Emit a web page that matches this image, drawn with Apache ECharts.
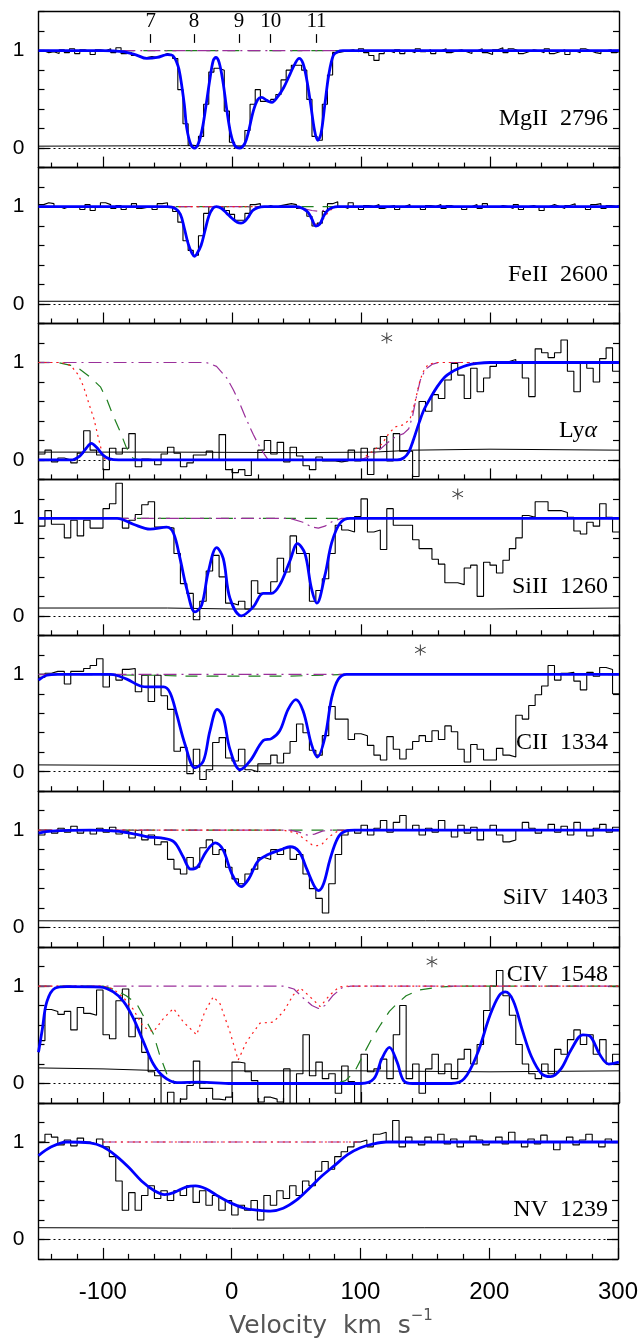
<!DOCTYPE html>
<html><head><meta charset="utf-8">
<script src="https://cdn.jsdelivr.net/npm/echarts@6/dist/echarts.min.js"></script>
<style>html,body{margin:0;padding:0;background:#fff}#c{width:641px;height:1344px}</style>
</head><body><div id="c"></div>
<script>
// ---------- axis ranges / ticks ----------
const velMin = -150, velMax = 300;
const fluxMin = -0.2, fluxMax = 1.4;
const majorVel = [-100, 0, 100, 200, 300];
const minorVel = [-140,-120,-80,-60,-40,-20,20,40,60,80,120,140,160,180,220,240,260,280];
const velLabels = [-100, 0, 100, 200, 300];
const fluxLabels = [0, 1];

// ---------- panel 1: MgII 2796 ----------
const mgBinStart = -150, mgBinWidth = 4;
const mgFlux = [
 1.0,0.98,0.99,0.97,1.01,0.98,1.02,0.97,1.01,0.99,
 0.96,1.01,1.0,1.02,0.98,1.03,0.97,0.98,0.95,0.93,
 0.93,0.94,0.93,0.95,0.97,0.95,0.92,0.6,0.25,0.03,
 0.02,0.12,0.45,0.78,0.82,0.8,0.38,0.06,0.01,0.03,
 0.18,0.45,0.6,0.48,0.47,0.5,0.55,0.7,0.8,0.85,
 0.85,0.8,0.5,0.12,0.08,0.45,0.75,0.98,0.99,1.0,
 1.01,0.99,1.02,0.98,0.95,0.9,0.97,1.0,0.98,1.01,
 0.97,1.0,0.98,1.02,0.99,1.01,0.97,1.0,1.02,0.98,
 1.0,1.01,0.99,0.97,1.0,1.02,0.98,0.96,1.01,1.03,
 0.98,1.02,1.0,0.97,0.99,1.01,1.0,0.98,1.02,0.97,
 0.99,1.01,0.96,1.0,0.98,1.02,1.0,0.98,0.97,1.0,
 1.01,0.98,1.0];
const mgFit = [[-150,1],[-100,1],[-85,0.99],[-75,0.96],[-66,0.92],[-58,0.93],[-50,0.96],[-46,0.95],[-42,0.85],[-40,0.73],[-37,0.45],[-35,0.2],[-32,0.04],[-29,0],[-26,0.05],[-23,0.2],[-20,0.45],[-17,0.72],[-14.5,0.9],[-12.5,0.93],[-10,0.88],[-7,0.68],[-4,0.39],[-1,0.15],[2,0.03],[6,0],[10,0.05],[13,0.18],[16.5,0.38],[20,0.5],[23,0.52],[27,0.49],[31,0.47],[35,0.52],[40,0.62],[45,0.76],[49,0.87],[52,0.92],[55,0.87],[58,0.7],[61,0.45],[64,0.18],[66.5,0.08],[69,0.15],[72,0.45],[75,0.75],[78.5,0.95],[82,0.99],[86,1],[300,1]];
const mgError = [[-150,0.02],[-40,0.025],[60,0.02],[90,0.025],[300,0.02]];
const mgGreen = [[-85,1],[90,1]];
const mgMagenta = [[-85,1],[90,1]];
const componentVel = [-63, -29.5, 5.5, 30, 65.5];
const componentLabels = ['7', '8', '9', '10', '11'];

// ---------- panel 2: FeII 2600 ----------
const feBinStart = -150, feBinWidth = 4;
const feFlux = [
 1.02,1.04,1.03,1.0,0.98,1.0,0.99,1.0,0.97,1.02,
 0.96,1.0,1.04,1.02,0.98,1.01,0.97,1.0,1.03,0.98,
 0.99,1.0,0.97,1.03,1.04,1.0,0.95,0.84,0.65,0.55,
 0.5,0.7,0.93,1.0,0.99,1.0,0.96,0.92,0.86,0.86,
 0.93,1.02,1.03,0.99,1.01,0.99,1.01,1.02,1.03,1.02,
 0.98,0.97,0.9,0.8,0.83,0.95,1.03,1.05,1.0,0.98,
 1.04,1.0,0.97,1.01,1.0,1.02,0.98,1.0,1.01,0.97,
 1.0,1.02,0.99,1.0,0.97,1.01,1.0,1.02,0.98,1.01,
 0.99,1.0,0.97,1.0,1.02,0.98,1.03,1.0,0.99,1.01,
 1.0,0.98,1.02,0.97,1.0,1.01,0.99,0.96,1.0,1.02,
 1.0,0.98,1.01,1.03,0.99,1.0,0.97,1.02,1.03,0.98,
 1.01,1.0,1.02];
const feFit = [[-150,1],[-50,1],[-44,0.98],[-40,0.92],[-37,0.78],[-34,0.62],[-31,0.52],[-29,0.49],[-27,0.52],[-24,0.6],[-21,0.75],[-18,0.9],[-15,0.98],[-12,1.0],[-8,0.98],[-4,0.93],[0,0.88],[4,0.84],[7,0.83],[10,0.85],[13,0.9],[16,0.96],[20,0.99],[25,1],[50,1],[55,0.98],[59,0.94],[62,0.87],[65,0.8],[68,0.82],[71,0.9],[74,0.96],[78,0.99],[82,1],[300,1]];
const feError = [[-150,0.028],[0,0.03],[300,0.028]];
const feGreen = [[-60,1],[90,1]];
const feMagenta = [[-60,1],[45,1],[55,0.98],[62,0.96],[68,0.95],[74,0.97],[80,1],[90,1]];
const feRed = [[-60,1],[50,1],[58,0.95],[63,0.85],[66,0.8],[70,0.86],[75,0.95],[80,1],[90,1]];

// ---------- panel 3: Ly alpha ----------
const lyaBinStart = -150, lyaBinWidth = 5;
const lyaFlux = [
 0.06,0.1,-0.02,0.02,0.0,-0.03,0.07,0.3,0.1,0.05,
 -0.1,0.12,0.06,0.12,0.27,-0.07,0.01,0.0,-0.05,0.06,
 0.13,0.07,-0.07,-0.03,0.05,0.05,0.09,0.0,0.26,-0.1,
 -0.13,-0.1,-0.16,0.0,0.1,0.2,0.06,0.18,-0.02,0.13,
 0.04,-0.06,-0.1,0.03,-0.01,-0.01,-0.02,-0.01,0.1,-0.01,
 0.12,-0.15,0.12,0.24,-0.01,0.27,0.09,0.09,-0.17,0.6,
 0.5,0.67,0.63,0.82,0.99,0.87,0.63,0.94,0.7,0.84,
 0.96,0.99,1.01,1.03,0.99,0.84,0.65,1.14,1.1,1.05,
 1.1,1.23,0.91,0.7,0.99,0.94,0.8,1.04,1.15,0.91];
const lyaFit = [[-150,0],[-125,0],[-118,0.04],[-113,0.12],[-109,0.17],[-105,0.13],[-100,0.05],[-95,0.01],[-88,0],[128,0],[133,0.02],[137,0.08],[141,0.22],[145,0.38],[149,0.52],[154,0.64],[159,0.75],[165,0.85],[170,0.9],[176,0.94],[182,0.97],[190,0.99],[200,1.0],[300,1.0]];
const lyaError = [[-150,0.08],[-50,0.08],[50,0.075],[110,0.08],[140,0.1],[200,0.11],[300,0.1]];
const lyaGreen = [[-150,1],[-135,1],[-125,0.97],[-118,0.93],[-110,0.85],[-102,0.75],[-97,0.62],[-92,0.45],[-87,0.3],[-82,0.13],[-77,0.02],[-72,0],[-60,0]];
const lyaMagenta = [[-150,1],[-20,1],[-12,0.96],[-4,0.84],[1,0.72],[6,0.58],[11,0.42],[16.5,0.26],[22,0.12],[28,0.0],[100,0],[107,0.04],[114,0.1],[120,0.17],[127,0.24],[133,0.27],[137,0.32],[140,0.45],[143,0.65],[146,0.82],[150,0.93],[155,0.98],[160,1],[300,1]];
const lyaRed = [[-150,1],[-132,1],[-125,0.97],[-119,0.87],[-115,0.75],[-111,0.58],[-107,0.42],[-104,0.25],[-102,0.14],[-100,0.04],[-98,0],[100,0],[107,0.07],[116,0.16],[122,0.28],[127,0.34],[133,0.36],[138,0.42],[142,0.6],[145,0.78],[148,0.9],[152,0.98],[158,1],[300,1]];
const lyaStar = [[120, 1.25]];

// ---------- panel 4: SiII 1260 ----------
const si2BinStart = -150, si2BinWidth = 5;
const si2Flux = [
 0.92,1.08,0.94,0.94,0.8,0.98,0.82,0.98,0.9,0.9,
 1.1,1.15,1.36,0.9,0.98,1.04,1.14,1.17,0.91,0.91,
 0.9,0.64,0.33,0.23,-0.04,0.15,0.46,0.62,0.4,0.13,
 0.11,0.15,0.07,0.36,0.23,0.23,0.35,0.59,0.45,0.82,
 0.64,0.64,0.15,0.26,0.38,0.64,0.93,0.88,0.86,1.02,
 1.2,0.86,0.88,0.68,1.1,0.93,0.93,0.93,0.78,0.69,
 0.69,0.58,0.53,0.34,0.34,0.32,0.49,0.52,0.2,0.55,
 0.52,0.44,0.57,0.69,0.8,1.03,1.01,1.17,1.17,1.08,
 1.08,1.06,1.01,0.87,0.84,0.96,0.92,1.15,1.01,0.86];
const si2Fit = [[-150,1.0],[-100,1.0],[-89,1.0],[-76.5,0.94],[-63.5,0.89],[-50.6,0.91],[-45.4,0.85],[-40.3,0.59],[-35.1,0.28],[-28.7,0.04],[-23.5,0.11],[-18.4,0.45],[-11.9,0.7],[-6.8,0.59],[-1.6,0.18],[7.4,0.0],[16.4,0.09],[24.2,0.23],[30.6,0.23],[37.1,0.32],[44.8,0.56],[50.8,0.74],[56.5,0.64],[61.6,0.28],[65.8,0.13],[72.1,0.42],[77.3,0.75],[83.7,0.95],[91.5,1.0],[300,1.0]];
const si2Error = [[-150,0.08],[-50,0.08],[0,0.07],[100,0.07],[200,0.07],[300,0.08]];
const si2Green = [[-90,1],[90,1]];
const si2Magenta = [[-90,1],[45,1],[55,0.96],[62,0.91],[67,0.9],[72,0.92],[78,0.97],[85,1],[90,1]];
const si2Star = [[175, 1.25]];

// ---------- panel 5: CII 1334 ----------
const c2BinStart = -150, c2BinWidth = 5;
const c2Flux = [
 0.97,1.01,1.03,1.03,0.9,1.03,1.03,1.06,1.09,1.16,
 0.87,1.0,0.94,1.05,1.06,0.82,0.99,0.72,0.99,0.78,
 0.64,0.21,0.25,-0.02,0.23,-0.08,0.02,0.3,0.35,0.14,
 0.11,0.23,0.02,0.0,0.08,0.08,0.17,0.09,0.19,0.31,
 0.49,0.4,0.22,0.17,0.37,0.67,0.54,0.54,0.33,0.39,
 0.37,0.27,0.17,0.12,0.36,0.23,0.13,0.23,0.31,0.37,
 0.31,0.42,0.33,0.47,0.41,0.23,0.1,0.28,0.23,0.12,
 0.12,0.24,0.17,0.15,0.58,0.54,0.68,0.79,0.88,1.09,
 0.94,1.01,1.02,0.93,0.84,1.02,0.98,1.07,1.05,0.8];
const c2Fit = [[-150,0.94],[-143.5,0.99],[-135,1.0],[-94,1.0],[-81.6,0.95],[-71,0.88],[-63.5,0.87],[-53,0.87],[-48,0.81],[-42.9,0.59],[-36.4,0.28],[-28.7,0.04],[-22.2,0.11],[-17.1,0.42],[-11.4,0.64],[-6.8,0.56],[-1.6,0.23],[6.2,0.02],[14,0.11],[24.2,0.32],[30.6,0.34],[37,0.42],[43.5,0.64],[49.5,0.74],[55.2,0.62],[61.6,0.28],[66.2,0.15],[72,0.35],[77.3,0.76],[82.4,0.95],[88.9,1.0],[300,1.0]];
const c2Error = [[-150,0.07],[0,0.06],[100,0.06],[300,0.07]];
const c2Green = [[-150,1],[-60,0.99],[-30,0.98],[40,0.98],[70,0.99],[90,1]];
const c2Magenta = [[-150,1],[90,1]];
const c2Star = [[146, 1.25]];

// ---------- panel 6: SiIV 1403 ----------
const si4BinStart = -150, si4BinWidth = 5;
const si4Flux = [
 0.95,1.0,0.97,1.02,0.98,1.04,0.97,1.0,0.96,1.02,
 0.98,1.03,0.96,0.99,0.92,1.0,0.9,0.95,0.85,0.88,
 0.7,0.6,0.55,0.72,0.62,0.82,0.9,0.75,0.8,0.62,
 0.5,0.45,0.55,0.6,0.72,0.7,0.8,0.75,0.82,0.7,
 0.75,0.55,0.4,0.3,0.15,0.45,0.75,0.95,1.0,0.97,
 1.05,0.95,1.02,1.1,0.98,1.08,1.15,1.0,1.05,0.95,
 1.02,0.98,1.1,1.0,0.93,1.05,0.97,1.03,0.9,1.0,
 1.05,0.95,0.88,0.9,1.0,1.08,1.02,0.97,1.0,1.06,
 0.98,1.04,0.95,1.08,1.0,0.94,1.02,1.06,0.98,1.03];
const si4Fit = [[-150,0.97],[-140,0.99],[-110,1.0],[-90,0.99],[-75,0.96],[-65,0.93],[-55,0.92],[-45,0.88],[-38,0.73],[-32,0.6],[-27,0.62],[-20,0.78],[-13,0.87],[-7,0.8],[0,0.55],[7,0.42],[13,0.5],[20,0.68],[28,0.75],[38,0.8],[45,0.83],[52,0.78],[58,0.6],[64,0.42],[67,0.38],[71,0.45],[76,0.7],[82,0.92],[88,0.99],[95,1],[300,1]];
const si4Error = [[-150,0.07],[0,0.065],[150,0.07],[300,0.07]];
const si4Green = [[-150,1],[90,1]];
const si4Magenta = [[-150,1],[45,1],[52,0.98],[58,0.95],[64,0.96],[70,0.99],[75,1],[90,1]];
const si4Red = [[-150,1],[40,1],[50,0.97],[57,0.9],[62,0.85],[66,0.84],[70,0.86],[75,0.93],[82,0.99],[90,1]];

// ---------- panel 7: CIV 1548 ----------
const c4BinStart = -150, c4BinWidth = 5;
const c4Flux = [
 0.44,0.76,0.74,0.71,0.74,0.55,0.78,0.72,0.7,0.96,
 0.5,0.46,0.85,0.97,0.48,0.67,0.32,0.12,0.08,-0.29,
 -0.09,-0.24,-0.16,-0.02,0.23,-0.05,-0.05,-0.16,-0.17,-0.14,
 0.22,0.21,0.12,0.03,-0.19,-0.14,-0.16,-0.19,0.15,-0.22,
 0.1,0.5,0.08,0.22,0.05,0.1,-0.1,0.18,0.02,-0.2,
 0.3,0.12,0.15,0.25,0.05,0.5,0.8,0.05,0.2,-0.1,
 0.15,0.3,0.1,0.2,0.05,0.25,0.35,0.2,0.4,0.75,
 1.0,1.16,0.9,0.7,0.4,0.2,0.1,0.05,0.2,0.1,
 0.35,0.3,0.45,0.55,0.4,0.5,0.3,0.45,0.2,0.3];
const c4Fit = [[-150,0.32],[-147,0.56],[-143.5,0.84],[-137,0.98],[-128,0.995],[-102,0.99],[-92,0.94],[-84,0.84],[-76.5,0.67],[-68.7,0.43],[-61,0.2],[-53,0.07],[-43,0.01],[-25,0.015],[0,0],[100,0],[110,0.05],[116,0.25],[122,0.37],[128,0.22],[133,0.03],[140,0],[170,0],[180,0.05],[190,0.3],[200,0.7],[207,0.9],[212,0.94],[218,0.85],[225,0.55],[232,0.28],[240,0.1],[247,0.07],[255,0.15],[263,0.35],[272,0.5],[278,0.48],[285,0.3],[292,0.2],[300,0.22]];
const c4Error = [[-150,0.16],[-100,0.15],[-50,0.13],[100,0.13],[200,0.12],[300,0.13]];
const c4Green = [[-150,1],[-100,1],[-90,0.96],[-82,0.9],[-74,0.82],[-66,0.63],[-61,0.51],[-56,0.29],[-50,0.08],[-45,0.02],[-40,0],[80,0],[88,0.03],[95,0.12],[102,0.3],[108,0.45],[115,0.6],[122,0.74],[128,0.82],[135,0.9],[145,0.96],[160,0.99],[175,1.0],[300,1]];
const c4Magenta = [[-150,1],[40,1],[48,0.97],[55,0.88],[62,0.8],[67,0.77],[72,0.8],[78,0.9],[85,0.98],[92,1],[300,1]];
const c4Red = [[-150,1],[-100,1],[-92,0.97],[-84,0.88],[-76.5,0.76],[-68.7,0.58],[-61,0.53],[-53,0.67],[-45.4,0.77],[-37.6,0.63],[-27.4,0.5],[-21,0.74],[-14.5,0.89],[-9.3,0.82],[-1.6,0.53],[4.8,0.24],[11.3,0.43],[21.7,0.62],[32,0.63],[40,0.74],[47.6,0.91],[53,0.98],[60.5,0.89],[68.3,0.79],[76,0.91],[83,0.99],[90,1],[300,1]];
const c4Star = [[155, 1.25]];

// ---------- panel 8: NV 1239 ----------
const n5BinStart = -150, n5BinWidth = 5;
const n5Flux = [
 1.0,1.08,1.05,0.97,1.02,0.96,1.04,1.0,0.98,1.03,
 0.95,0.85,0.6,0.3,0.48,0.3,0.45,0.55,0.42,0.5,
 0.4,0.5,0.45,0.55,0.38,0.5,0.35,0.45,0.3,0.4,
 0.25,0.35,0.3,0.4,0.2,0.45,0.35,0.5,0.42,0.55,
 0.45,0.6,0.55,0.7,0.8,0.72,0.85,0.9,0.95,1.0,
 1.02,0.95,1.08,1.1,1.0,1.22,0.95,1.05,1.0,0.97,
 1.05,1.0,1.08,0.98,1.03,0.95,1.0,1.06,1.02,0.97,
 1.0,1.05,0.98,1.1,1.0,0.95,1.03,0.98,1.07,1.0,
 0.92,1.0,1.05,0.97,1.02,1.08,1.0,0.95,1.03,1.0];
const n5Fit = [[-150,0.86],[-140,0.95],[-128,1.0],[-110,0.99],[-100,0.95],[-90,0.86],[-80,0.74],[-70,0.6],[-60,0.5],[-52,0.46],[-45,0.48],[-35,0.54],[-28,0.55],[-20,0.52],[-10,0.44],[0,0.37],[10,0.32],[20,0.3],[30,0.29],[40,0.32],[50,0.4],[60,0.52],[70,0.65],[80,0.76],[90,0.87],[100,0.94],[110,0.98],[120,1.0],[300,1.0]];
const n5Error = [[-150,0.12],[0,0.115],[150,0.12],[300,0.12]];
const n5Magenta = [[-100,1],[100,1]];
const n5Red = [[-100,1],[100,1]];

const ionLabels = ['MgII  2796','FeII  2600','Ly\u03b1','SiII  1260','CII  1334','SiIV  1403','CIV  1548','NV  1239'];

// ---------- build ----------
function hist(vals, start, dv) {
  const out = vals.map((f, i) => [start + i * dv, f]);
  out.push([start + vals.length * dv, vals[vals.length - 1]]);
  return out;
}
const panels = [
  {flux: hist(mgFlux, mgBinStart, mgBinWidth), fit: mgFit, err: mgError, green: mgGreen, magenta: mgMagenta},
  {flux: hist(feFlux, feBinStart, feBinWidth), fit: feFit, err: feError, green: feGreen, magenta: feMagenta, red: feRed},
  {flux: hist(lyaFlux, lyaBinStart, lyaBinWidth), fit: lyaFit, err: lyaError, green: lyaGreen, magenta: lyaMagenta, red: lyaRed, star: lyaStar},
  {flux: hist(si2Flux, si2BinStart, si2BinWidth), fit: si2Fit, err: si2Error, green: si2Green, magenta: si2Magenta, star: si2Star},
  {flux: hist(c2Flux, c2BinStart, c2BinWidth), fit: c2Fit, err: c2Error, green: c2Green, magenta: c2Magenta, star: c2Star},
  {flux: hist(si4Flux, si4BinStart, si4BinWidth), fit: si4Fit, err: si4Error, green: si4Green, magenta: si4Magenta, red: si4Red},
  {flux: hist(c4Flux, c4BinStart, c4BinWidth), fit: c4Fit, err: c4Error, green: c4Green, magenta: c4Magenta, red: c4Red, star: c4Star},
  {flux: hist(n5Flux, n5BinStart, n5BinWidth), fit: n5Fit, err: n5Error, magenta: n5Magenta, red: n5Red}
];

const GL = 38.5, GW = 580.5, GT0 = 11.7, GH = 155.9;
const grids = [], xAxes = [], yAxes = [], series = [], graphics = [];
const tickStyle = {color: '#000', width: 1.2};
const frameStyle = {color: '#000', width: 1.4};
const starPath = 'path://M-0.8,-10L0.8,-10L0.8,10L-0.8,10Z M8.26,5.69L9.06,4.31L-8.26,-5.69L-9.06,-4.31Z M9.06,-4.31L8.26,-5.69L-9.06,4.31L-8.26,5.69Z';

panels.forEach((p, k) => {
  const top = GT0 + GH * k;
  grids.push({left: GL, width: GW, top: top, height: GH, containLabel: false});
  const xBase = {gridIndex: k, type: 'value', min: velMin, max: velMax, splitLine: {show: false}, axisLabel: {show: false}, axisTick: {show: false}, axisLine: {show: false, onZero: false}};
  xAxes.push(Object.assign({}, xBase, {position: 'bottom',
    axisLine: {show: true, onZero: false, lineStyle: frameStyle},
    axisTick: {show: true, inside: true, length: 11, customValues: majorVel, lineStyle: tickStyle},
    axisLabel: {show: k === panels.length - 1, customValues: velLabels, fontSize: 24, fontFamily: 'Liberation Sans', color: '#000', margin: 21}}));
  xAxes.push(Object.assign({}, xBase, {position: 'bottom',
    axisTick: {show: true, inside: true, length: 5, customValues: minorVel, lineStyle: tickStyle}}));
  xAxes.push(Object.assign({}, xBase, {position: 'top',
    axisLine: {show: true, onZero: false, lineStyle: frameStyle}}));
  const yBase = {gridIndex: k, type: 'value', min: fluxMin, max: fluxMax, splitLine: {show: false}, axisLabel: {show: false}, axisTick: {show: false}, axisLine: {show: false, onZero: false}};
  yAxes.push(Object.assign({}, yBase, {position: 'left',
    axisLine: {show: true, onZero: false, lineStyle: frameStyle},
    axisTick: {show: true, inside: true, length: 11, customValues: fluxLabels, lineStyle: tickStyle},
    axisLabel: {show: true, customValues: fluxLabels, fontSize: 21, fontFamily: 'Liberation Sans', color: '#000', margin: 14}}));
  yAxes.push(Object.assign({}, yBase, {position: 'left', interval: 0.2,
    axisTick: {show: true, inside: true, length: 6, lineStyle: tickStyle}}));
  yAxes.push(Object.assign({}, yBase, {position: 'right',
    axisLine: {show: true, onZero: false, lineStyle: frameStyle},
    axisTick: {show: true, inside: true, length: 11, customValues: fluxLabels, lineStyle: tickStyle}}));
  yAxes.push(Object.assign({}, yBase, {position: 'right', interval: 0.2,
    axisTick: {show: true, inside: true, length: 6, lineStyle: tickStyle}}));

  const xi = 3 * k, yi = 4 * k;
  const base = {type: 'line', xAxisIndex: xi, yAxisIndex: yi, symbol: 'none', silent: true, animation: false};
  const histSeries = Object.assign({}, base, {data: p.flux, step: 'end', z: 2, lineStyle: {color: '#000', width: 1.1}});
  if (k === 0) {
    histSeries.markLine = {silent: true, symbol: 'none', animation: false,
      lineStyle: {color: '#000', width: 1.2, type: 'solid'},
      label: {show: true, position: 'end', formatter: '{b}', fontSize: 21, fontFamily: 'Liberation Serif', color: '#000', distance: 2},
      data: componentVel.map((v, i) => [{coord: [v, 1.08], name: componentLabels[i]}, {coord: [v, 1.17]}])};
  }
  series.push(histSeries);
  series.push(Object.assign({}, base, {data: p.err, z: 2, lineStyle: {color: '#000', width: 1},
    markLine: {silent: true, symbol: 'none', animation: false, label: {show: false},
      lineStyle: {color: '#000', width: 1, type: [2, 3]}, data: [{yAxis: 0}]}}));
  if (p.green) series.push(Object.assign({}, base, {data: p.green, z: 3, lineStyle: {color: '#1f7f1f', width: 1.2, type: [12, 9]}}));
  if (p.magenta) series.push(Object.assign({}, base, {data: p.magenta, z: 3, lineStyle: {color: '#9a2f9a', width: 1.2, type: [13, 5, 2, 5]}}));
  if (p.red) series.push(Object.assign({}, base, {data: p.red, z: 3, lineStyle: {color: '#ff1a1a', width: 1.2, type: [2, 4]}}));
  series.push(Object.assign({}, base, {data: p.fit, z: 5, smooth: 0.35, lineStyle: {color: '#0000ff', width: 2.8}}));
  if (p.star) series.push({type: 'scatter', xAxisIndex: xi, yAxisIndex: yi, data: p.star, symbol: starPath, symbolSize: 11, silent: true, animation: false, itemStyle: {color: '#000'}, z: 6});

  const isLya = k === 2, isCIV = k === 6;
  const ty = top + (isCIV ? 28 : 107);
  const tx = isLya ? 597 : 608;
  const st = isLya ? {text: '{a|Ly}{b|\u03b1}', rich: {a: {fontSize: 24, fontFamily: 'Liberation Serif', fill: '#000'}, b: {fontSize: 24, fontFamily: 'Liberation Serif', fontStyle: 'italic', fill: '#000'}}}
                   : {text: ionLabels[k], font: '24px "Liberation Serif"'};
  graphics.push({type: 'text', x: tx, y: ty, silent: true,
    style: Object.assign({fill: '#000', align: 'right', verticalAlign: 'middle', textAlign: 'right', textVerticalAlign: 'middle'}, st)});
});

graphics.push({type: 'text', x: 331, y: 1324, silent: true,
  style: {text: '{n|Velocity  km  s}{s|\u22121}', align: 'center', verticalAlign: 'middle', textAlign: 'center', textVerticalAlign: 'middle',
    rich: {n: {fontSize: 25, fontFamily: 'DejaVu Sans', fill: '#555', lineHeight: 30, verticalAlign: 'bottom'},
           s: {fontSize: 15, fontFamily: 'DejaVu Sans', fill: '#555', lineHeight: 30, verticalAlign: 'top'}}}});

const chart = echarts.init(document.getElementById('c'), null, {renderer: 'canvas'});
chart.setOption({animation: false, backgroundColor: '#fff', grid: grids, xAxis: xAxes, yAxis: yAxes, series: series, graphic: graphics});
</script></body></html>
